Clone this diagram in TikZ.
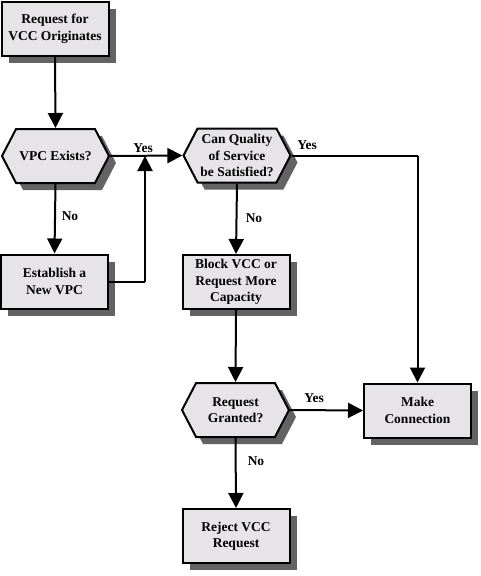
\documentclass[tikz,border=0pt]{standalone}
\usepackage{fontspec}
\setmainfont{Liberation Serif}
\usetikzlibrary{shapes.symbols,shadows,arrows.meta}
\definecolor{boxfill}{HTML}{E6E4E6}
\definecolor{shadowgray}{HTML}{636363}
\tikzset{
  base/.style={draw=black, line width=2pt, fill=boxfill, inner sep=0pt,
    minimum width=107pt, minimum height=54pt, align=center,
    font=\fontsize{13.5}{16.5}\selectfont\bfseries,
    drop shadow={shadow xshift=7pt, shadow yshift=-7pt, fill=shadowgray, opacity=1, draw=none}},
  procbox/.style={base, rectangle},
  decision/.style={base, signal, signal to=west and east, signal pointer angle=125},
  flow/.style={line width=2pt, -{Triangle[width=15pt,length=15pt]}},
  plain/.style={line width=2pt},
  lbl/.style={font=\fontsize{13.5}{16}\selectfont\bfseries, inner sep=0pt}
}
\begin{document}
\begin{tikzpicture}[x=1pt,y=-1pt]
\useasboundingbox (0,0) rectangle (481,576);
\node[procbox] (b1) at (55,28.5) {Request for\\VCC Originates};
\node[decision] (h1) at (55.5,156) {VPC Exists?};
\node[procbox] (b2) at (54.5,281.5) {Establish a\\New VPC};
\node[decision] (h2) at (237,155.5) {Can Quality\\of Service\\be Satisfied?};
\node[procbox] (b3) at (236,282) {Block VCC or\\Request More\\Capacity};
\node[decision] (h3) at (235.5,410) {Request\\Granted?};
\node[procbox] (b4) at (417.5,410.5) {Make\\Connection};
\node[procbox] (b5) at (236,536) {Reject VCC\\Request};

\coordinate (j1) at (145,281.5);
\coordinate (j2) at (145,156);
\coordinate (k1) at (417.5,155.5);

\draw[flow] (b1.south) -- (h1.north);
\draw[flow] (h1.south) -- (b2.north);
\draw[flow] (h1.east) -- (h2.west);
\draw[plain] (b2.east) -- (j1);
\draw[flow] (j1) -- (j2);
\draw[plain] (h2.east) -- (k1);
\draw[flow] (k1) -- (b4.north);
\draw[flow] (h2.south) -- (b3.north);
\draw[flow] (b3.south) -- (h3.north);
\draw[flow] (h3.east) -- (b4.west);
\draw[flow] (h3.south) -- (b5.north);

\node[lbl] (l1) at (70,216) {No};
\node[lbl] (l2) at (143,148) {Yes};
\node[lbl] (l3) at (307,145) {Yes};
\node[lbl] (l4) at (254,218) {No};
\node[lbl] (l5) at (314,398) {Yes};
\node[lbl] (l6) at (256,461) {No};
\end{tikzpicture}
\end{document}
